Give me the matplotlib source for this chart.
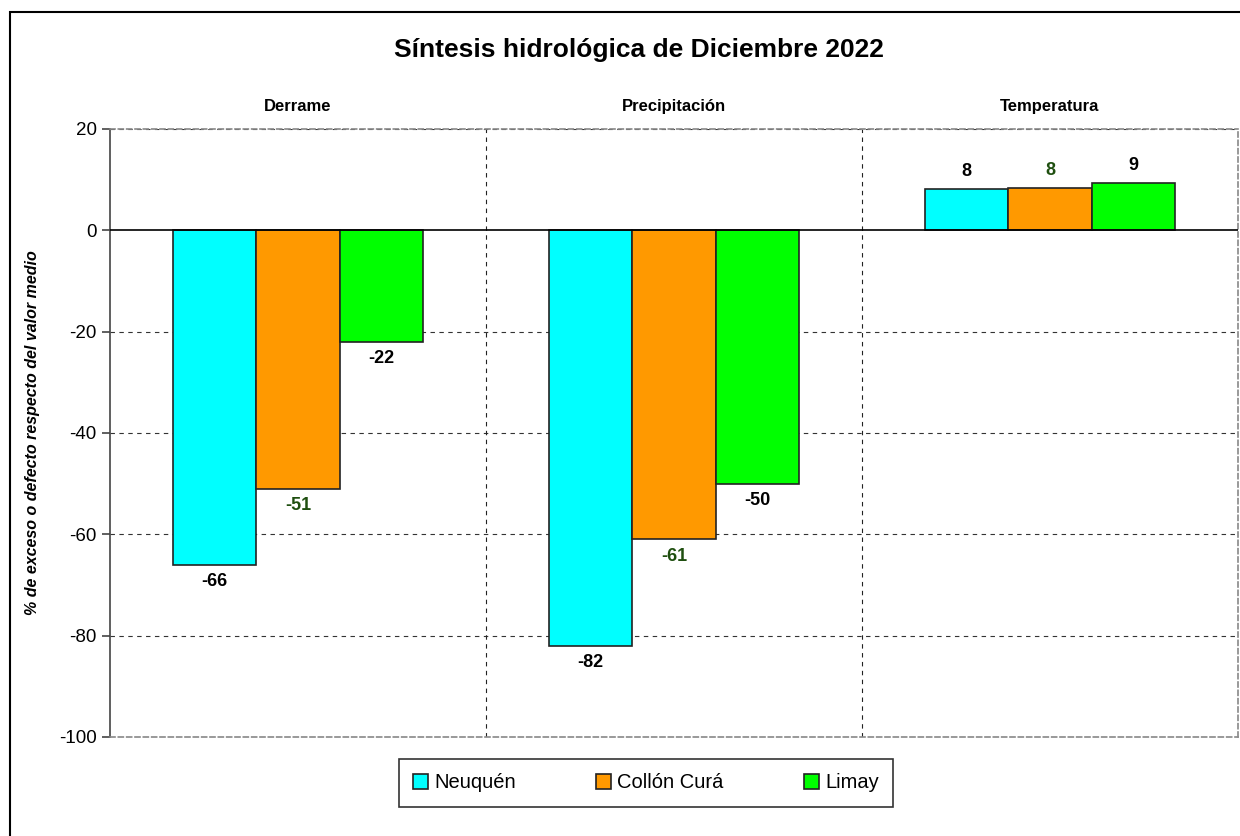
import numpy as np
import matplotlib.pyplot as plt
from matplotlib.patches import Rectangle

plt.rcParams['font.family'] = ['Liberation Sans', 'DejaVu Sans']
plt.rcParams['axes.unicode_minus'] = False

# datos
grupos = ['Derrame', 'Precipitación', 'Temperatura']
series = ['Neuquén', 'Collón Curá', 'Limay']
neuquen = [-66, -82, 8.1]
collon_cura = [-51, -61, 8.3]
limay = [-22, -50, 9.4]
etiquetas = [['-66', '-82', '8'], ['-51', '-61', '8'], ['-22', '-50', '9']]

colores = ['#00FFFF', '#FF9900', '#00FF00']
color_txt = ['black', '#1F4F10', 'black']

fig = plt.figure(figsize=(12.4, 8.36), dpi=100)
ax = fig.add_axes([110 / 1240, 1 - 737 / 836, 1128 / 1240, 608 / 836])

# borde exterior
fig.patches.append(Rectangle((10 / 1240, -0.1), 1.2, 1 - 12 / 836 + 0.1,
                             transform=fig.transFigure, fill=False,
                             edgecolor='black', lw=1.5))

x = np.arange(3)
w = 0.222
valores = [neuquen, collon_cura, limay]
for i, vals in enumerate(valores):
    pos = x + (i - 1) * w
    ax.bar(pos, vals, width=w, color=colores[i], edgecolor='#222222',
           linewidth=1.2, label=series[i], zorder=3)
    for j, v in enumerate(vals):
        if v < 0:
            ax.text(pos[j], v - 1.6, etiquetas[i][j], ha='center', va='top',
                    fontsize=13, fontweight='bold', color=color_txt[i])
        else:
            ax.text(pos[j], v + 1.8, etiquetas[i][j], ha='center', va='bottom',
                    fontsize=13, fontweight='bold', color=color_txt[i])

ax.set_xlim(-0.5, 2.5)
ax.set_ylim(-100, 20)
ax.set_yticks(range(-100, 21, 20))
ax.set_xticks([])
ax.tick_params(axis='y', labelsize=13.5, length=6, width=1.2, color='#444444')

for yv in [-80, -60, -40, -20, 20]:
    ax.axhline(yv, color='#333333', lw=0.8, ls=(0, (4, 4)), zorder=1)
for xv in [0.5, 1.5]:
    ax.axvline(xv, color='#222222', lw=0.8, ls=(0, (4, 4)), zorder=1)
ax.axhline(0, color='black', lw=1.2, zorder=4)

for s in ['top', 'right', 'bottom']:
    ax.spines[s].set_color('#888888')
    ax.spines[s].set_linestyle((0, (3, 2)))
    ax.spines[s].set_linewidth(1.2)
ax.spines['left'].set_color('#444444')
ax.spines['left'].set_linewidth(1.2)

for j, g in enumerate(grupos):
    ax.text(j, 24.5, g, ha='center', va='center', fontsize=12,
            fontweight='bold')

ax.set_ylabel('% de exceso o defecto respecto del valor medio', fontsize=11.5,
              fontweight='bold', fontstyle='italic', labelpad=14)
fig.text(639 / 1240, 1 - 50 / 836, 'Síntesis hidrológica de Diciembre 2022',
         ha='center', va='center', fontsize=19, fontweight='bold')

leg = fig.legend(loc='center', bbox_to_anchor=(646 / 1240, 1 - 783 / 836),
                 ncol=3, fontsize=14.5, frameon=True, fancybox=False,
                 edgecolor='black', handlelength=0.75, handleheight=0.75,
                 handletextpad=0.3, columnspacing=4.0, borderpad=0.7)
leg.get_frame().set_linewidth(1.2)

fig.savefig('out.png', dpi=100)
